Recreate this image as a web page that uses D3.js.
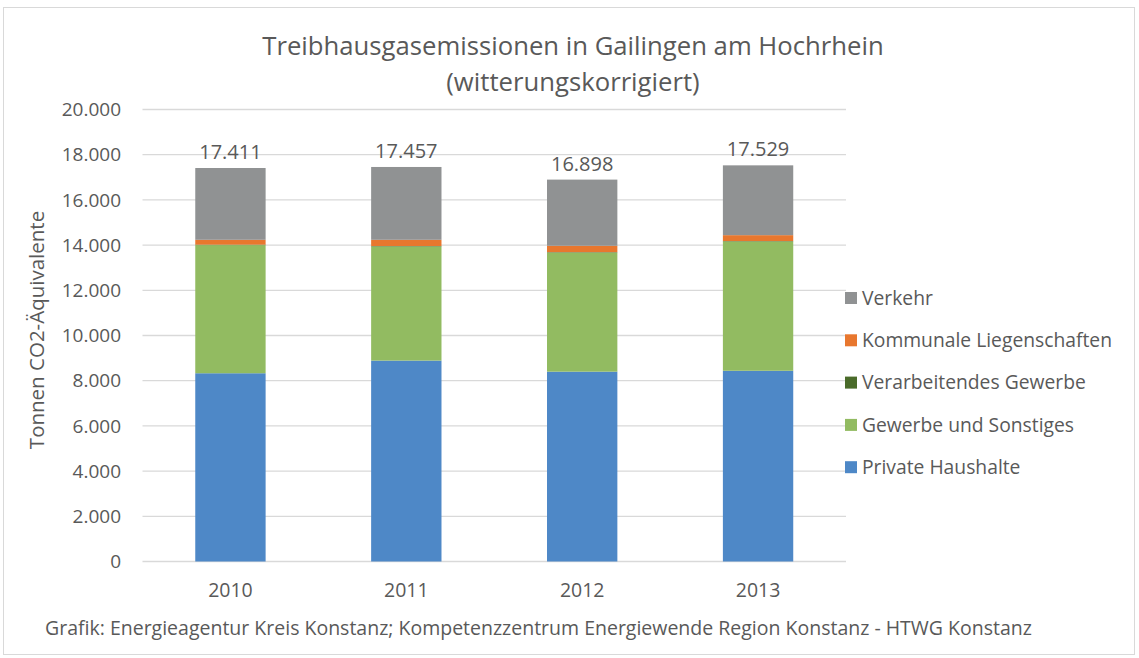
<!doctype html>
<html>
<head>
<meta charset="UTF-8">
<title>Treibhausgasemissionen Gailingen</title>
<style>
  body { margin: 0; background: #fff; }
  svg text { font-family: "Open Sans", "Noto Sans", sans-serif; fill: #595959; }
</style>
<script src="https://d3js.org/d3.v7.min.js"></script>
</head>
<body>
<svg id="chart" width="1139" height="658"></svg>
<script>
// data
var years = ["2010", "2011", "2012", "2013"];
var series = ["Private Haushalte", "Gewerbe und Sonstiges", "Verarbeitendes Gewerbe", "Kommunale Liegenschaften", "Verkehr"];
var privateHaushalte = [8330, 8890, 8400, 8440];
var gewerbeSonstiges = [5670, 5050, 5270, 5720];
var verarbeitendes   = [20, 20, 20, 20];
var kommunale        = [215, 275, 280, 260];
var verkehr          = [3176, 3222, 2928, 3089];
var totals           = ["17.411", "17.457", "16.898", "17.529"];
var yTicks = [0, 2000, 4000, 6000, 8000, 10000, 12000, 14000, 16000, 18000, 20000];
var colors = ["#4e88c7", "#92bb61", "#4a6b2a", "#e8772e", "#909293"];

function draw() {
  var svg = d3.select("#chart");

  // outer frame
  svg.append("rect")
    .attr("x", 3.5).attr("y", 7.5).attr("width", 1131).attr("height", 647)
    .attr("fill", "none").attr("stroke", "#d9d9d9");

  var plotLeft = 142.5, plotRight = 846, plotTop = 109.5, plotBottom = 561.5;

  var x = d3.scaleBand().domain(years).range([plotLeft, plotRight]).paddingInner(0.6).paddingOuter(0.3);
  var y = d3.scaleLinear().domain([0, 20000]).range([plotBottom, plotTop]);

  // gridlines
  svg.append("g").selectAll("line")
    .data(yTicks)
    .enter().append("line")
      .attr("x1", plotLeft).attr("x2", plotRight)
      .attr("y1", function(d) { return y(d); })
      .attr("y2", function(d) { return y(d); })
      .attr("stroke", "#d9d9d9").attr("stroke-width", 1.3);

  // y tick labels
  svg.append("g").selectAll("text")
    .data(yTicks)
    .enter().append("text")
      .attr("x", 121)
      .attr("y", function(d) { return y(d); })
      .attr("dy", "0.35em")
      .attr("text-anchor", "end")
      .attr("font-size", "19px")
      .text(function(d) { return d3.format(",")(d).replace(/,/g, "."); });

  // stack the series
  var table = years.map(function(yr, i) {
    return {
      year: yr,
      "Private Haushalte": privateHaushalte[i],
      "Gewerbe und Sonstiges": gewerbeSonstiges[i],
      "Verarbeitendes Gewerbe": verarbeitendes[i],
      "Kommunale Liegenschaften": kommunale[i],
      "Verkehr": verkehr[i]
    };
  });
  var stacked = d3.stack().keys(series)(table);

  svg.append("g").selectAll("g")
    .data(stacked)
    .enter().append("g")
      .attr("fill", function(d, i) { return colors[i]; })
    .selectAll("rect")
    .data(function(d) { return d; })
    .enter().append("rect")
      .attr("x", function(d) { return x(d.data.year); })
      .attr("y", function(d) { return y(d[1]); })
      .attr("width", x.bandwidth())
      .attr("height", function(d) { return y(d[0]) - y(d[1]); });

  // total labels
  svg.append("g").selectAll("text")
    .data(table)
    .enter().append("text")
      .attr("x", function(d) { return x(d.year) + x.bandwidth() / 2; })
      .attr("y", function(d) { return y(d3.sum(series, function(k) { return d[k]; })) - 9; })
      .attr("text-anchor", "middle")
      .attr("font-size", "20px")
      .text(function(d, i) { return totals[i]; });

  // x labels
  svg.append("g").selectAll("text")
    .data(years)
    .enter().append("text")
      .attr("x", function(d) { return x(d) + x.bandwidth() / 2; })
      .attr("y", 597)
      .attr("text-anchor", "middle")
      .attr("font-size", "19.5px")
      .text(function(d) { return d; });

  // y axis title
  svg.append("text")
    .attr("transform", "translate(44,330) rotate(-90)")
    .attr("text-anchor", "middle")
    .attr("font-size", "20.5px")
    .text("Tonnen CO2-Äquivalente");

  // title
  svg.append("text")
    .attr("x", 573).attr("y", 55)
    .attr("text-anchor", "middle")
    .attr("font-size", "25.7px")
    .text("Treibhausgasemissionen in Gailingen am Hochrhein");
  svg.append("text")
    .attr("x", 573).attr("y", 91)
    .attr("text-anchor", "middle")
    .attr("font-size", "25.7px")
    .text("(witterungskorrigiert)");

  // legend (top to bottom in reverse stack order)
  var legendItems = series.slice().reverse();
  var legend = svg.append("g").selectAll("g")
    .data(legendItems)
    .enter().append("g")
      .attr("transform", function(d, i) { return "translate(845," + (298 + i * 42.3) + ")"; });
  legend.append("rect")
    .attr("x", 0).attr("y", -6).attr("width", 12).attr("height", 12)
    .attr("fill", function(d) { return colors[series.indexOf(d)]; });
  legend.append("text")
    .attr("x", 17).attr("dy", "0.35em")
    .attr("font-size", "19.3px")
    .text(function(d) { return d; });

  // source
  svg.append("text")
    .attr("x", 45).attr("y", 635)
    .attr("font-size", "19.5px")
    .text("Grafik: Energieagentur Kreis Konstanz; Kompetenzzentrum Energiewende Region Konstanz - HTWG Konstanz");
}

draw();
</script>
</body>
</html>
